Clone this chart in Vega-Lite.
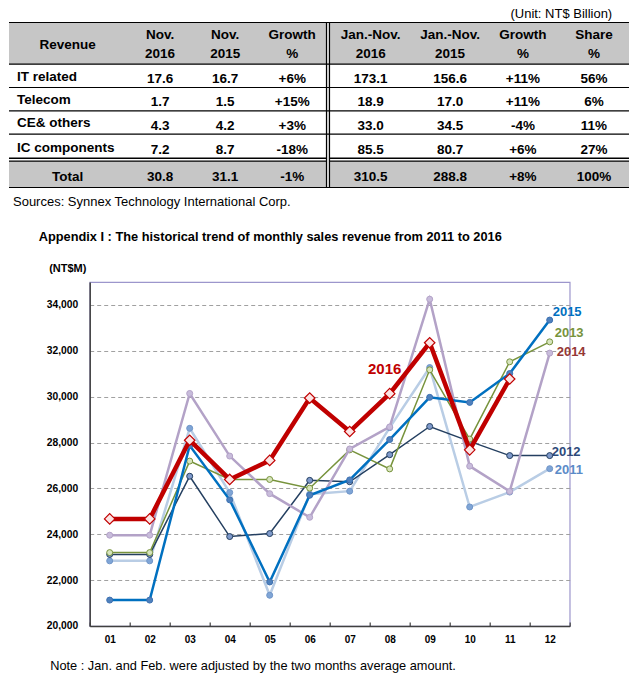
{
  "$schema": "https://vega.github.io/schema/vega-lite/v6.json",
  "background": "white",
  "padding": {"left": 6.7, "top": 7.5, "right": 4, "bottom": 4},
  "bounds": "flush",
  "spacing": 94.5,
  "config": {"font": "Liberation Sans", "view": {"stroke": "#9C96CC", "strokeWidth": 1.2}},
  "datasets": {
    "columns": [
      {"key": "segment", "col": 0, "header": "Revenue"},
      {"key": "nov2016", "col": 1, "header": "Nov.\n2016"},
      {"key": "nov2015", "col": 2, "header": "Nov.\n2015"},
      {"key": "novGrowth", "col": 3, "header": "Growth\n%"},
      {"key": "ytd2016", "col": 4, "header": "Jan.-Nov.\n2016"},
      {"key": "ytd2015", "col": 5, "header": "Jan.-Nov.\n2015"},
      {"key": "ytdGrowth", "col": 6, "header": "Growth\n%"},
      {"key": "share", "col": 7, "header": "Share\n%"}
    ],
    "cells": [
      {"segment": "IT related", "row": 1, "nov2016": "17.6", "nov2015": "16.7", "novGrowth": "+6%", "ytd2016": "173.1", "ytd2015": "156.6", "ytdGrowth": "+11%", "share": "56%"},
      {"segment": "Telecom", "row": 2, "nov2016": "1.7", "nov2015": "1.5", "novGrowth": "+15%", "ytd2016": "18.9", "ytd2015": "17.0", "ytdGrowth": "+11%", "share": "6%"},
      {"segment": "CE& others", "row": 3, "nov2016": "4.3", "nov2015": "4.2", "novGrowth": "+3%", "ytd2016": "33.0", "ytd2015": "34.5", "ytdGrowth": "-4%", "share": "11%"},
      {"segment": "IC components", "row": 4, "nov2016": "7.2", "nov2015": "8.7", "novGrowth": "-18%", "ytd2016": "85.5", "ytd2015": "80.7", "ytdGrowth": "+6%", "share": "27%"},
      {"segment": "Total", "row": 5, "nov2016": "30.8", "nov2015": "31.1", "novGrowth": "-1%", "ytd2016": "310.5", "ytd2015": "288.8", "ytdGrowth": "+8%", "share": "100%"}
    ],
    "sales": [
      {"year": "2011", "month": "01", "value": 22840}, {"year": "2011", "month": "02", "value": 22840}, {"year": "2011", "month": "03", "value": 28620}, {"year": "2011", "month": "04", "value": 25820}, {"year": "2011", "month": "05", "value": 21340}, {"year": "2011", "month": "06", "value": 25750}, {"year": "2011", "month": "07", "value": 25880}, {"year": "2011", "month": "08", "value": 28650}, {"year": "2011", "month": "09", "value": 31270}, {"year": "2011", "month": "10", "value": 25190}, {"year": "2011", "month": "11", "value": 25840}, {"year": "2011", "month": "12", "value": 26860},
      {"year": "2012", "month": "01", "value": 23120}, {"year": "2012", "month": "02", "value": 23120}, {"year": "2012", "month": "03", "value": 26530}, {"year": "2012", "month": "04", "value": 23900}, {"year": "2012", "month": "05", "value": 24030}, {"year": "2012", "month": "06", "value": 26350}, {"year": "2012", "month": "07", "value": 26290}, {"year": "2012", "month": "08", "value": 27470}, {"year": "2012", "month": "09", "value": 28700}, {"year": "2012", "month": "10", "value": 28050}, {"year": "2012", "month": "11", "value": 27430}, {"year": "2012", "month": "12", "value": 27430},
      {"year": "2013", "month": "01", "value": 23200}, {"year": "2013", "month": "02", "value": 23200}, {"year": "2013", "month": "03", "value": 27190}, {"year": "2013", "month": "04", "value": 26390}, {"year": "2013", "month": "05", "value": 26390}, {"year": "2013", "month": "06", "value": 26010}, {"year": "2013", "month": "07", "value": 27680}, {"year": "2013", "month": "08", "value": 26850}, {"year": "2013", "month": "09", "value": 31170}, {"year": "2013", "month": "10", "value": 28150}, {"year": "2013", "month": "11", "value": 31520}, {"year": "2013", "month": "12", "value": 32390},
      {"year": "2014", "month": "01", "value": 23960}, {"year": "2014", "month": "02", "value": 23960}, {"year": "2014", "month": "03", "value": 30140}, {"year": "2014", "month": "04", "value": 27410}, {"year": "2014", "month": "05", "value": 25770}, {"year": "2014", "month": "06", "value": 24740}, {"year": "2014", "month": "07", "value": 27720}, {"year": "2014", "month": "08", "value": 28680}, {"year": "2014", "month": "09", "value": 34250}, {"year": "2014", "month": "10", "value": 26970}, {"year": "2014", "month": "11", "value": 25870}, {"year": "2014", "month": "12", "value": 31900},
      {"year": "2015", "month": "01", "value": 21130}, {"year": "2015", "month": "02", "value": 21130}, {"year": "2015", "month": "03", "value": 27870}, {"year": "2015", "month": "04", "value": 25500}, {"year": "2015", "month": "05", "value": 21920}, {"year": "2015", "month": "06", "value": 25700}, {"year": "2015", "month": "07", "value": 26370}, {"year": "2015", "month": "08", "value": 28130}, {"year": "2015", "month": "09", "value": 29970}, {"year": "2015", "month": "10", "value": 29750}, {"year": "2015", "month": "11", "value": 31010}, {"year": "2015", "month": "12", "value": 33340},
      {"year": "2016", "month": "01", "value": 24670}, {"year": "2016", "month": "02", "value": 24670}, {"year": "2016", "month": "03", "value": 28100}, {"year": "2016", "month": "04", "value": 26390}, {"year": "2016", "month": "05", "value": 27220}, {"year": "2016", "month": "06", "value": 29940}, {"year": "2016", "month": "07", "value": 28480}, {"year": "2016", "month": "08", "value": 30130}, {"year": "2016", "month": "09", "value": 32350}, {"year": "2016", "month": "10", "value": 27680}, {"year": "2016", "month": "11", "value": 30770}
    ]
  },
  "vconcat": [
    {
      "width": 540,
      "height": 165,
      "view": {"stroke": null},
      "layer": [
        {
          "data": {"values": [{}]},
          "mark": {"type": "rect", "color": "#C6C6C6"},
          "encoding": {
            "x": {"datum": -0.5, "type": "quantitative",
              "scale": {"domain": [-0.5, 0, 0.5, 1, 1.5, 2, 2.5, 3, 3.5, 4, 4.5, 5, 5.5, 6, 6.5, 7, 7.5], "range": [-80.7, -22.1, 36.5, 70.4, 104.3, 135.5, 166.7, 202.5, 238.3, 281, 323.7, 360.4, 397, 433.2, 469.3, 504.3, 539.3], "nice": false, "zero": false},
              "axis": {"values": [-0.5, 0.5, 1.5, 2.5, 4.5, 5.5, 6.5, 7.5], "grid": true, "gridColor": "#000000", "gridWidth": 1.2, "gridOpacity": 1, "domain": false, "ticks": false, "labels": false, "title": null, "zindex": 1}},
            "x2": {"datum": 7.5},
            "y": {"datum": -0.5, "type": "quantitative",
              "scale": {"domain": [-0.5, 0, 0.5, 1, 1.5, 2, 2.5, 3, 3.5, 4, 4.5, 5, 5.5], "range": [0, 20.85, 41.7, 53.35, 65, 76.7, 88.4, 100.05, 111.7, 124.45, 137.2, 151.1, 165], "nice": false, "zero": false},
              "axis": null},
            "y2": {"datum": 0.5}
          }
        },
        {
          "data": {"values": [{}]},
          "mark": {"type": "rect", "color": "#C6C6C6"},
          "encoding": {
            "x": {"datum": -0.5, "type": "quantitative", "axis": null},
            "x2": {"datum": 7.5},
            "y": {"datum": 4.5, "type": "quantitative", "axis": null},
            "y2": {"datum": 5.5}
          }
        },
        {
          "data": {"values": [{}]},
          "mark": {"type": "rule", "color": "#000000", "strokeWidth": 4.2},
          "encoding": {"x": {"datum": -0.5, "type": "quantitative", "axis": null}, "x2": {"datum": 7.5}, "y": {"datum": 4.5, "type": "quantitative", "axis": null}}
        },
        {
          "data": {"values": [{}]},
          "mark": {"type": "rule", "color": "#FFFFFF", "strokeWidth": 1.6},
          "encoding": {"x": {"datum": -0.5, "type": "quantitative", "axis": null}, "x2": {"datum": 7.5}, "y": {"datum": 4.5, "type": "quantitative", "axis": null}}
        },
        {
          "data": {"values": [{}]},
          "mark": {"type": "rule", "color": "#000000", "strokeWidth": 4.2},
          "encoding": {"x": {"datum": 3.5, "type": "quantitative", "axis": null}, "y": {"datum": -0.5, "type": "quantitative", "axis": null}, "y2": {"datum": 5.5}}
        },
        {
          "data": {"values": [{}]},
          "mark": {"type": "rule", "color": "#FFFFFF", "strokeWidth": 1.6},
          "encoding": {"x": {"datum": 3.5, "type": "quantitative", "axis": null}, "y": {"datum": -0.5, "type": "quantitative", "axis": null}, "y2": {"datum": 5.5}}
        },
        {
          "data": {"values": [{}]},
          "mark": {"type": "rule", "color": "#000000", "strokeWidth": 1.2},
          "encoding": {"x": {"datum": -0.5, "type": "quantitative", "axis": null}, "x2": {"datum": 7.5}, "y": {"datum": -0.5, "type": "quantitative", "axis": null}}
        },
        {
          "data": {"values": [{}]},
          "mark": {"type": "rule", "color": "#000000", "strokeWidth": 1.2},
          "encoding": {"x": {"datum": -0.5, "type": "quantitative", "axis": null}, "x2": {"datum": 7.5}, "y": {"datum": 0.5, "type": "quantitative", "axis": null}}
        },
        {
          "data": {"values": [{}]},
          "mark": {"type": "rule", "color": "#000000", "strokeWidth": 1.2},
          "encoding": {"x": {"datum": -0.5, "type": "quantitative", "axis": null}, "x2": {"datum": 7.5}, "y": {"datum": 1.5, "type": "quantitative", "axis": null}}
        },
        {
          "data": {"values": [{}]},
          "mark": {"type": "rule", "color": "#000000", "strokeWidth": 1.2},
          "encoding": {"x": {"datum": -0.5, "type": "quantitative", "axis": null}, "x2": {"datum": 7.5}, "y": {"datum": 2.5, "type": "quantitative", "axis": null}}
        },
        {
          "data": {"values": [{}]},
          "mark": {"type": "rule", "color": "#000000", "strokeWidth": 1.2},
          "encoding": {"x": {"datum": -0.5, "type": "quantitative", "axis": null}, "x2": {"datum": 7.5}, "y": {"datum": 3.5, "type": "quantitative", "axis": null}}
        },
        {
          "data": {"values": [{}]},
          "mark": {"type": "rule", "color": "#000000", "strokeWidth": 1.2},
          "encoding": {"x": {"datum": -0.5, "type": "quantitative", "axis": null}, "x2": {"datum": 7.5}, "y": {"datum": 5.5, "type": "quantitative", "axis": null}}
        },
        {
          "data": {"name": "columns"},
          "transform": [{"filter": "datum.col === 0"}],
          "mark": {"type": "text", "fontSize": 13.5, "fontWeight": "bold", "color": "#000000", "baseline": "middle", "dy": 1.6},
          "encoding": {
            "x": {"field": "col", "type": "quantitative", "axis": null},
            "y": {"datum": 0, "type": "quantitative", "axis": null},
            "text": {"field": "header"}
          }
        },
        {
          "data": {"name": "columns"},
          "transform": [{"filter": "datum.col > 0"}],
          "mark": {"type": "text", "fontSize": 13.5, "fontWeight": "bold", "color": "#000000", "lineBreak": "\n", "lineHeight": 19, "baseline": "middle", "dy": -8.4},
          "encoding": {
            "x": {"field": "col", "type": "quantitative", "axis": null},
            "y": {"datum": 0, "type": "quantitative", "axis": null},
            "text": {"field": "header"}
          }
        },
        {
          "data": {"name": "cells"},
          "transform": [
            {"fold": ["nov2016", "nov2015", "novGrowth", "ytd2016", "ytd2015", "ytdGrowth", "share"], "as": ["key", "text"]},
            {"lookup": "key", "from": {"data": {"name": "columns"}, "key": "key", "fields": ["col"]}}
          ],
          "mark": {"type": "text", "fontSize": 13.5, "fontWeight": "bold", "color": "#000000", "baseline": "middle", "dy": 3},
          "encoding": {
            "x": {"field": "col", "type": "quantitative", "axis": null},
            "y": {"field": "row", "type": "quantitative", "axis": null},
            "text": {"field": "text"}
          }
        },
        {
          "data": {"name": "cells"},
          "transform": [{"filter": "datum.row < 5"}],
          "mark": {"type": "text", "fontSize": 13.5, "fontWeight": "bold", "color": "#000000", "align": "left", "baseline": "middle", "dx": 8, "dy": 0.8},
          "encoding": {
            "x": {"datum": -0.5, "type": "quantitative", "axis": null},
            "y": {"field": "row", "type": "quantitative", "axis": null},
            "text": {"field": "segment"}
          }
        },
        {
          "data": {"name": "cells"},
          "transform": [{"filter": "datum.row === 5"}],
          "mark": {"type": "text", "fontSize": 13.5, "fontWeight": "bold", "color": "#000000", "align": "center", "baseline": "middle", "dy": 3},
          "encoding": {
            "x": {"datum": 0, "type": "quantitative", "axis": null},
            "y": {"field": "row", "type": "quantitative", "axis": null},
            "text": {"field": "segment"}
          }
        },
        {
          "data": {"values": [{"note": "(Unit: NT$ Billion)"}]},
          "mark": {"type": "text", "fontSize": 13, "color": "#000000", "align": "right", "baseline": "middle", "dx": -16.8, "dy": -8.5},
          "encoding": {
            "x": {"datum": 7.5, "type": "quantitative", "axis": null},
            "y": {"datum": -0.5, "type": "quantitative", "axis": null},
            "text": {"field": "note"}
          }
        },
        {
          "data": {"values": [{"note": "Sources: Synnex Technology International Corp."}]},
          "mark": {"type": "text", "fontSize": 13, "color": "#000000", "align": "left", "baseline": "middle", "dx": 4, "dy": 14.5},
          "encoding": {
            "x": {"datum": -0.5, "type": "quantitative", "axis": null},
            "y": {"datum": 5.5, "type": "quantitative", "axis": null},
            "text": {"field": "note"}
          }
        }
      ]
    },
    {
      "width": 480,
      "height": 344,
      "title": {"text": "Appendix I : The historical trend of monthly sales revenue from 2011 to 2016", "anchor": "start", "frame": "group", "dx": -51, "offset": 19, "fontSize": 12.8, "fontWeight": "bold", "color": "#000000"},
      "data": {"name": "sales"},
      "encoding": {
        "x": {"field": "month", "type": "ordinal", "scale": {"type": "band", "paddingInner": 0, "paddingOuter": 0},
          "axis": {"title": "Note : Jan. and Feb. were adjusted by the two months average amount.", "titleFontSize": 12.8, "titleFontWeight": "normal", "titleColor": "#000000", "titleAnchor": "start", "titleAlign": "left", "titleX": -40, "titleY": 44, "titleBaseline": "alphabetic",
            "labelAngle": 0, "labelFontSize": 10, "labelFontWeight": "bold", "labelColor": "#000000", "labelPadding": 13,
            "tickBand": "extent", "tickSize": -4, "tickColor": "#404040", "tickWidth": 1.2, "domainColor": "#404040", "domainWidth": 1.5, "grid": false}},
        "y": {"field": "value", "type": "quantitative", "scale": {"domain": [20000, 35000], "nice": false, "zero": false},
          "axis": {"values": [20000, 22000, 24000, 26000, 28000, 30000, 32000, 34000], "format": ",d", "labelFontSize": 10.3, "labelFontWeight": "bold", "labelColor": "#000000", "labelPadding": 12, "ticks": false,
            "domainColor": "#404040", "domainWidth": 1.5, "grid": true, "gridColor": "#A0A0A0", "gridDash": [4, 3], "gridWidth": 1,
            "title": "(NT$M)", "titleAngle": 0, "titleAlign": "left", "titleBaseline": "middle", "titleX": -41, "titleY": -13.5, "titleFontSize": 11, "titleFontWeight": "bold", "titleColor": "#000000"}}
      },
      "layer": [
        {"transform": [{"filter": "datum.year === '2011'"}], "mark": {"type": "line", "color": "#B9CDE5", "strokeWidth": 2.5}},
        {"transform": [{"filter": "datum.year === '2011'"}], "mark": {"type": "point", "shape": "circle", "size": 36, "filled": true, "fill": "#7FA5D6", "stroke": "#6F95C8", "strokeWidth": 1, "opacity": 1}},
        {"transform": [{"filter": "datum.year === '2012'"}], "mark": {"type": "line", "color": "#243F60", "strokeWidth": 1.5}},
        {"transform": [{"filter": "datum.year === '2012'"}], "mark": {"type": "point", "shape": "circle", "size": 36, "filled": true, "fill": "#7F9ACB", "stroke": "#243F60", "strokeWidth": 1, "opacity": 1}},
        {"transform": [{"filter": "datum.year === '2013'"}], "mark": {"type": "line", "color": "#77933C", "strokeWidth": 1.5}},
        {"transform": [{"filter": "datum.year === '2013'"}], "mark": {"type": "point", "shape": "circle", "size": 36, "filled": true, "fill": "#D7E4BD", "stroke": "#77933C", "strokeWidth": 1, "opacity": 1}},
        {"transform": [{"filter": "datum.year === '2014'"}], "mark": {"type": "line", "color": "#B3A2C7", "strokeWidth": 2.5}},
        {"transform": [{"filter": "datum.year === '2014'"}], "mark": {"type": "point", "shape": "circle", "size": 36, "filled": true, "fill": "#C8BCDB", "stroke": "#B3A2C7", "strokeWidth": 1, "opacity": 1}},
        {"transform": [{"filter": "datum.year === '2015'"}], "mark": {"type": "line", "color": "#0070C0", "strokeWidth": 2.5}},
        {"transform": [{"filter": "datum.year === '2015'"}], "mark": {"type": "point", "shape": "circle", "size": 36, "filled": true, "fill": "#4F81BD", "stroke": "#3C6FB0", "strokeWidth": 1, "opacity": 1}},
        {"transform": [{"filter": "datum.year === '2016'"}], "mark": {"type": "line", "color": "#C00000", "strokeWidth": 4.5}},
        {"transform": [{"filter": "datum.year === '2016'"}], "mark": {"type": "point", "shape": "diamond", "size": 110, "filled": true, "fill": "#FCE4E4", "stroke": "#C00000", "strokeWidth": 1.2, "opacity": 1}},
        {
          "transform": [{"filter": "datum.year === '2015' && datum.month === '12'"}],
          "mark": {"type": "text", "align": "left", "baseline": "middle", "dx": 3, "dy": -7.6, "fontSize": 13, "fontWeight": "bold", "color": "#0070C0"},
          "encoding": {"text": {"field": "year"}}
        },
        {
          "transform": [{"filter": "datum.year === '2013' && datum.month === '12'"}],
          "mark": {"type": "text", "align": "left", "baseline": "middle", "dx": 5, "dy": -9.3, "fontSize": 13, "fontWeight": "bold", "color": "#77933C"},
          "encoding": {"text": {"field": "year"}}
        },
        {
          "transform": [{"filter": "datum.year === '2014' && datum.month === '12'"}],
          "mark": {"type": "text", "align": "left", "baseline": "middle", "dx": 7, "dy": -0.7, "fontSize": 13, "fontWeight": "bold", "color": "#953735"},
          "encoding": {"text": {"field": "year"}}
        },
        {
          "transform": [{"filter": "datum.year === '2012' && datum.month === '12'"}],
          "mark": {"type": "text", "align": "left", "baseline": "middle", "dx": 2, "dy": -3.3, "fontSize": 13, "fontWeight": "bold", "color": "#2E4A7A"},
          "encoding": {"text": {"field": "year"}}
        },
        {
          "transform": [{"filter": "datum.year === '2011' && datum.month === '12'"}],
          "mark": {"type": "text", "align": "left", "baseline": "middle", "dx": 5, "dy": 1, "fontSize": 13, "fontWeight": "bold", "color": "#5B8BC8"},
          "encoding": {"text": {"field": "year"}}
        },
        {
          "transform": [{"filter": "datum.year === '2016' && datum.month === '08'"}],
          "mark": {"type": "text", "align": "center", "baseline": "middle", "dx": -5, "dy": -24.4, "fontSize": 15, "fontWeight": "bold", "color": "#C00000"},
          "encoding": {"text": {"field": "year"}}
        }
      ]
    }
  ]
}
